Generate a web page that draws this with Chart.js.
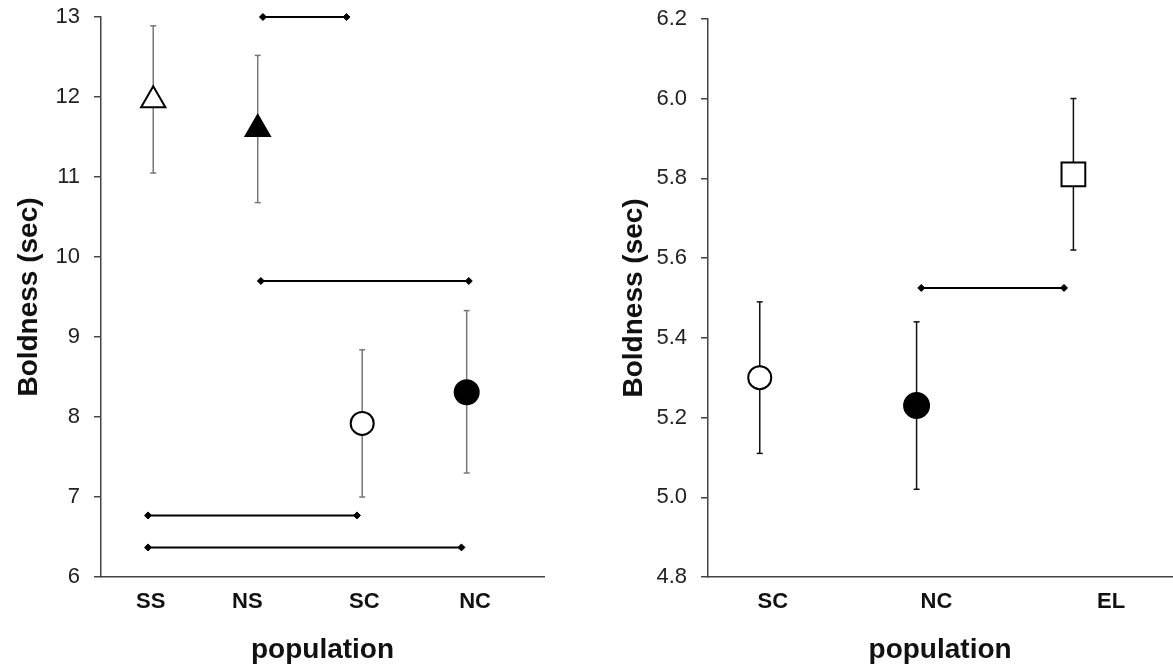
<!DOCTYPE html>
<html>
<head>
<meta charset="utf-8">
<script src="https://cdn.jsdelivr.net/npm/chart.js@4.4.0/dist/chart.umd.min.js"></script>
<style>
  html, body { margin: 0; padding: 0; background: #fff; overflow: hidden; }
  #wrap { position: relative; width: 1173px; height: 670px; overflow: hidden; }
  .panel { position: absolute; top: 0; height: 670px; }
  .panel canvas { display: block; }
  #left { left: 0; width: 560px; }
  #right { left: 560px; width: 631px; }
</style>
</head>
<body>
<div id="wrap">
  <div class="panel" id="left"><canvas id="leftChart"></canvas></div>
  <div class="panel" id="right"><canvas id="rightChart"></canvas></div>
</div>
<script>
// left panel - four populations
const leftGroups = ['SS', 'NS', 'SC', 'NC'];
const leftMeans = [11.96, 11.60, 7.92, 8.31];
const leftLower = [11.05, 10.68, 7.00, 7.30];
const leftUpper = [12.89, 12.52, 8.84, 9.33];
const leftTicks = [6, 7, 8, 9, 10, 11, 12, 13];
// significance bars: start, end, height
const leftBarFrom = [2.05, 2.03, 0.95, 0.95];
const leftBarTo = [2.85, 4.02, 2.95, 3.95];
const leftBarAt = [13.0, 9.70, 6.77, 6.37];

// right panel - three populations
const rightGroups = ['SC', 'NC', 'EL'];
const rightMeans = [5.30, 5.23, 5.81];
const rightLower = [5.11, 5.02, 5.62];
const rightUpper = [5.49, 5.44, 6.00];
const rightTicks = [4.8, 5.0, 5.2, 5.4, 5.6, 5.8, 6.0, 6.2];
const rightBarFrom = [2.03];
const rightBarTo = [2.94];
const rightBarAt = [5.525];

Chart.defaults.font.family = "'Liberation Sans', Arial, sans-serif";
Chart.defaults.animation = false;

function buildPanel(id, p) {
  const datasets = [];

  // markers first so they sit on top of the error bars
  datasets.push({
    data: p.means.map((m, i) => ({ x: i + 1, y: m })),
    showLine: false,
    pointStyle: p.styles,
    pointRadius: p.radii,
    pointHoverRadius: p.radii,
    pointBackgroundColor: p.fills,
    pointBorderColor: '#000',
    pointBorderWidth: 2,
    clip: false
  });

  for (let i = 0; i < p.means.length; i++) {
    datasets.push({
      data: [{ x: i + 1, y: p.lower[i] }, { x: i + 1, y: p.upper[i] }],
      showLine: true,
      borderColor: p.errColor,
      borderWidth: 1.5,
      pointStyle: 'line',
      pointRadius: 3,
      pointBorderColor: p.errColor,
      pointBorderWidth: 1.5,
      clip: false
    });
  }

  for (let i = 0; i < p.barAt.length; i++) {
    datasets.push({
      data: [{ x: p.barFrom[i], y: p.barAt[i] }, { x: p.barTo[i], y: p.barAt[i] }],
      showLine: true,
      borderColor: '#000',
      borderWidth: 2,
      pointStyle: 'rectRot',
      pointRadius: 3.5,
      pointBackgroundColor: '#000',
      pointBorderColor: '#000',
      pointBorderWidth: 1,
      clip: false
    });
  }

  return new Chart(document.getElementById(id), {
    type: 'scatter',
    data: { datasets: datasets },
    options: {
      responsive: true,
      maintainAspectRatio: false,
      layout: { padding: p.padding },
      plugins: { legend: { display: false }, tooltip: { enabled: false } },
      scales: {
        x: {
          type: 'linear',
          min: p.xMin,
          max: p.xMax,
          afterBuildTicks: s => { s.ticks = p.labelAt.map(v => ({ value: v })); },
          afterFit: s => { s.height = 93; s.paddingLeft = 0; s.paddingRight = 0; },
          ticks: {
            callback: (v, i) => p.groups[i],
            font: { size: 22, weight: 'bold' },
            color: '#111',
            padding: 4,
            autoSkip: false,
            maxRotation: 0
          },
          grid: { display: false },
          border: { display: true, color: '#444', width: 1.5 },
          title: {
            display: true,
            text: 'population',
            font: { size: 28, weight: 'bold' },
            color: '#111',
            padding: { top: 0, bottom: 3 }
          }
        },
        y: {
          type: 'linear',
          min: p.yTicks[0],
          max: p.yTicks[p.yTicks.length - 1],
          afterBuildTicks: s => { s.ticks = p.yTicks.map(v => ({ value: v })); },
          afterFit: s => { s.width = p.yWidth; s.paddingTop = 0; s.paddingBottom = 0; },
          ticks: {
            callback: v => v.toFixed(p.decimals),
            font: { size: 22 },
            color: '#222',
            padding: 14
          },
          grid: { drawOnChartArea: false, drawTicks: true, tickLength: 7, color: '#444', lineWidth: 1.5 },
          border: { display: true, color: '#444', width: 1.5 },
          title: {
            display: true,
            text: 'Boldness (sec)',
            font: { size: 28, weight: 'bold' },
            color: '#111',
            padding: { top: 7, bottom: 0 }
          }
        }
      }
    }
  });
}

buildPanel('leftChart', {
  groups: leftGroups, means: leftMeans, lower: leftLower, upper: leftUpper,
  yTicks: leftTicks, decimals: 0,
  barFrom: leftBarFrom, barTo: leftBarTo, barAt: leftBarAt,
  styles: ['triangle', 'triangle', 'circle', 'circle'],
  fills: ['#fff', '#000', '#fff', '#000'],
  radii: [14, 14, 11.5, 12],
  errColor: '#777',
  xMin: 0.5, xMax: 4.74,
  labelAt: [0.976, 1.90, 3.02, 4.08],
  yWidth: 96,
  padding: { left: 5, top: 17, right: 12, bottom: 0 }
});

buildPanel('rightChart', {
  groups: rightGroups, means: rightMeans, lower: rightLower, upper: rightUpper,
  yTicks: rightTicks, decimals: 1,
  barFrom: rightBarFrom, barTo: rightBarTo, barAt: rightBarAt,
  styles: ['circle', 'circle', 'rect'],
  fills: ['#fff', '#000', '#fff'],
  radii: [11.5, 12.5, 16.8],
  errColor: '#111',
  xMin: 0.67, xMax: 3.63,
  labelAt: [1.083, 2.127, 3.24],
  yWidth: 98,
  padding: { left: 50, top: 16, right: 0, bottom: 0 }
});
</script>
</body>
</html>
